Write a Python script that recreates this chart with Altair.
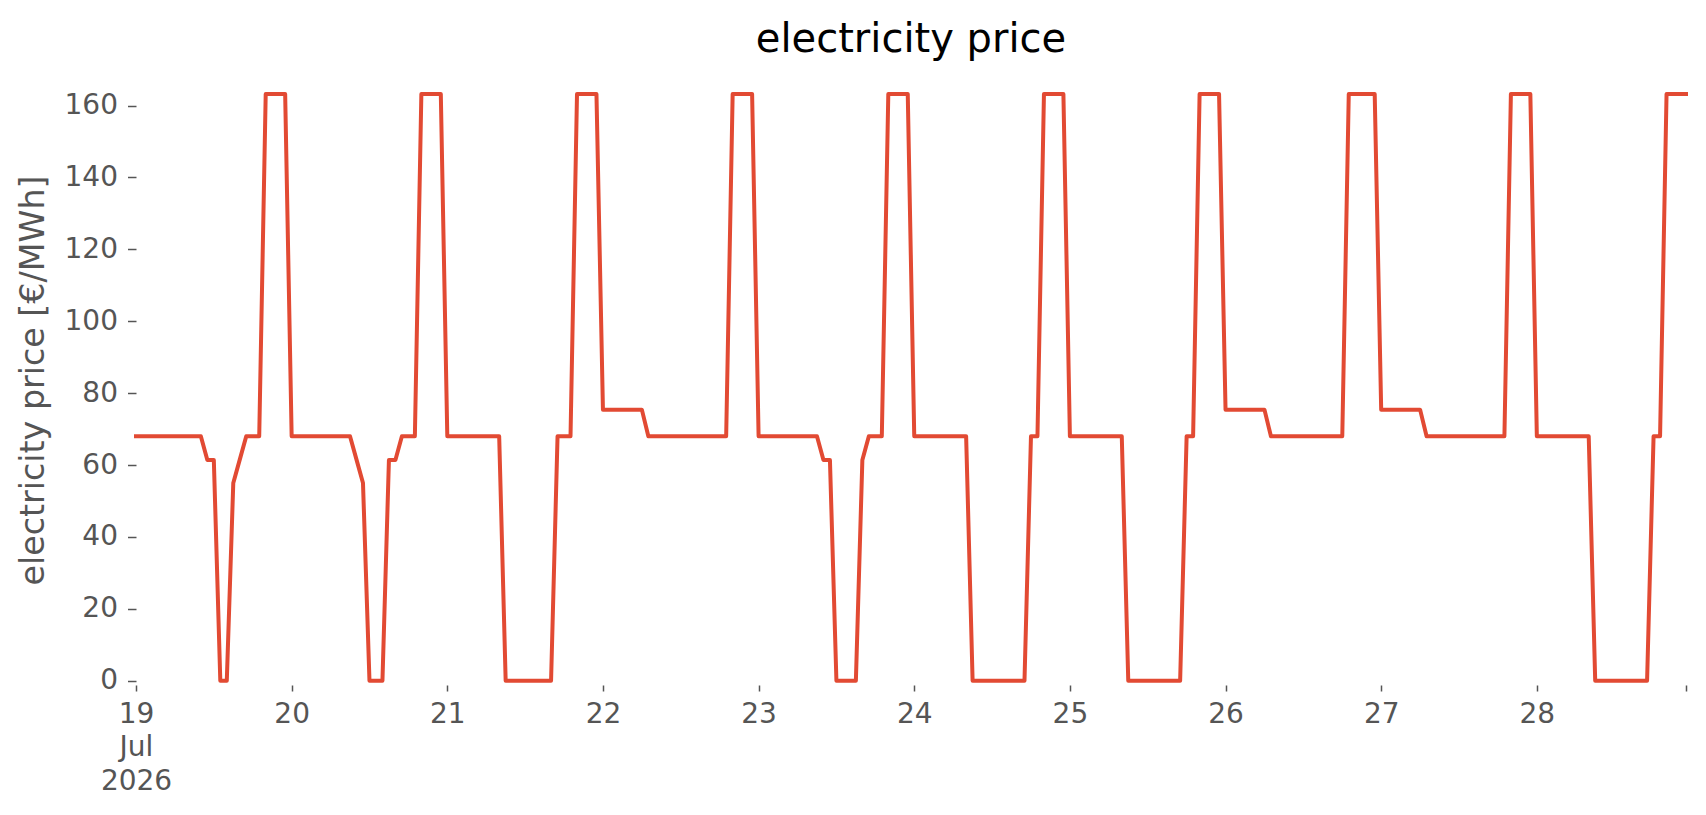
import altair as alt
import pandas as pd

# hourly electricity price [€/MWh], one list per day (00:00 ... 23:00)
jul19 = [68.0, 68.0, 68.0, 68.0, 68.0, 68.0, 68.0, 68.0, 68.0, 68.0, 68.0, 61.4,
         61.4, 0.0, 0.0, 55.0, 61.5, 68.0, 68.0, 68.0, 163.2, 163.2, 163.2, 163.2]
jul20 = [68.0, 68.0, 68.0, 68.0, 68.0, 68.0, 68.0, 68.0, 68.0, 68.0, 61.5, 55.0,
         0.0, 0.0, 0.0, 61.4, 61.4, 68.0, 68.0, 68.0, 163.2, 163.2, 163.2, 163.2]
jul21 = [68.0, 68.0, 68.0, 68.0, 68.0, 68.0, 68.0, 68.0, 68.0, 0.0, 0.0, 0.0,
         0.0, 0.0, 0.0, 0.0, 0.0, 68.0, 68.0, 68.0, 163.2, 163.2, 163.2, 163.2]
jul22 = [75.4, 75.4, 75.4, 75.4, 75.4, 75.4, 75.4, 68.0, 68.0, 68.0, 68.0, 68.0,
         68.0, 68.0, 68.0, 68.0, 68.0, 68.0, 68.0, 68.0, 163.2, 163.2, 163.2, 163.2]
jul23 = [68.0, 68.0, 68.0, 68.0, 68.0, 68.0, 68.0, 68.0, 68.0, 68.0, 61.4, 61.4,
         0.0, 0.0, 0.0, 0.0, 61.4, 68.0, 68.0, 68.0, 163.2, 163.2, 163.2, 163.2]
jul24 = [68.0, 68.0, 68.0, 68.0, 68.0, 68.0, 68.0, 68.0, 68.0, 0.0, 0.0, 0.0,
         0.0, 0.0, 0.0, 0.0, 0.0, 0.0, 68.0, 68.0, 163.2, 163.2, 163.2, 163.2]
jul25 = [68.0, 68.0, 68.0, 68.0, 68.0, 68.0, 68.0, 68.0, 68.0, 0.0, 0.0, 0.0,
         0.0, 0.0, 0.0, 0.0, 0.0, 0.0, 68.0, 68.0, 163.2, 163.2, 163.2, 163.2]
jul26 = [75.4, 75.4, 75.4, 75.4, 75.4, 75.4, 75.4, 68.0, 68.0, 68.0, 68.0, 68.0,
         68.0, 68.0, 68.0, 68.0, 68.0, 68.0, 68.0, 163.2, 163.2, 163.2, 163.2, 163.2]
jul27 = [75.4, 75.4, 75.4, 75.4, 75.4, 75.4, 75.4, 68.0, 68.0, 68.0, 68.0, 68.0,
         68.0, 68.0, 68.0, 68.0, 68.0, 68.0, 68.0, 68.0, 163.2, 163.2, 163.2, 163.2]
jul28 = [68.0, 68.0, 68.0, 68.0, 68.0, 68.0, 68.0, 68.0, 68.0, 0.0, 0.0, 0.0,
         0.0, 0.0, 0.0, 0.0, 0.0, 0.0, 68.0, 68.0, 163.2, 163.2, 163.2, 163.2]

days = [19, 20, 21, 22, 23, 24, 25, 26, 27, 28]
day_values = [jul19, jul20, jul21, jul22, jul23, jul24, jul25, jul26, jul27, jul28]
y_ticks = [0, 20, 40, 60, 80, 100, 120, 140, 160]

rows = []
for d, vals in zip(days, day_values):
    for h, v in enumerate(vals):
        rows.append({"time": f"2026-07-{d:02d}T{h:02d}:00:00", "price": v})
df = pd.DataFrame(rows)

x_tick_values = [alt.DateTime(year=2026, month=7, date=d, hours=0) for d in days]
x_tick_values.append(alt.DateTime(year=2026, month=7, date=28, hours=23))

FONT = "DejaVu Sans"
GREY = "#555555"

chart = alt.Chart(df).mark_line(
    color="#E24A33", strokeWidth=4, strokeJoin="round", strokeCap="square"
).encode(
    x=alt.X(
        "time:T",
        scale=alt.Scale(
            domain=[alt.DateTime(year=2026, month=7, date=19, hours=0),
                    alt.DateTime(year=2026, month=7, date=28, hours=23)],
            nice=False,
        ),
        axis=alt.Axis(
            title=None,
            values=x_tick_values,
            labelExpr="hours(datum.value) == 23 ? '' : (date(datum.value) == 19 ? "
                      "[timeFormat(datum.value, '%d'), timeFormat(datum.value, '%b'), "
                      "timeFormat(datum.value, '%Y')] : timeFormat(datum.value, '%d'))",
            labelFont=FONT, labelFontSize=28, labelColor=GREY,
            labelLineHeight=33.5, labelPadding=9, labelBaseline="top",
            labelOverlap=False, labelFlush=False, labelBound=False,
            tickColor=GREY, tickSize=6, tickWidth=1.5,
            domain=False, grid=False,
        ),
    ),
    y=alt.Y(
        "price:Q",
        scale=alt.Scale(domain=[-1.2, 171], nice=False, zero=False),
        axis=alt.Axis(
            title="electricity price [€/MWh]",
            values=y_ticks,
            labelFont=FONT, labelFontSize=28, labelColor=GREY, labelPadding=10,
            tickColor=GREY, tickSize=8.5, tickWidth=1.5,
            titleFont=FONT, titleFontSize=33.3, titleColor=GREY, titleFontWeight="normal",
            titleX=-93, titleY=314, titleBaseline="alphabetic", titleAngle=270,
            titleAlign="center",
            domain=False, grid=False,
        ),
    ),
).properties(
    width=1550,
    height=619,
    title=alt.TitleParams(
        "electricity price", font=FONT, fontSize=40, fontWeight="normal",
        color="#000000", anchor="middle", frame="group", offset=6,
    ),
    padding={"left": 128, "top": 58, "right": 4, "bottom": 110},
    autosize=alt.AutoSizeParams(type="none"),
).configure(background="white").configure_view(stroke=None)

chart.save("out.html", embed_options={"renderer": "svg", "actions": False})
